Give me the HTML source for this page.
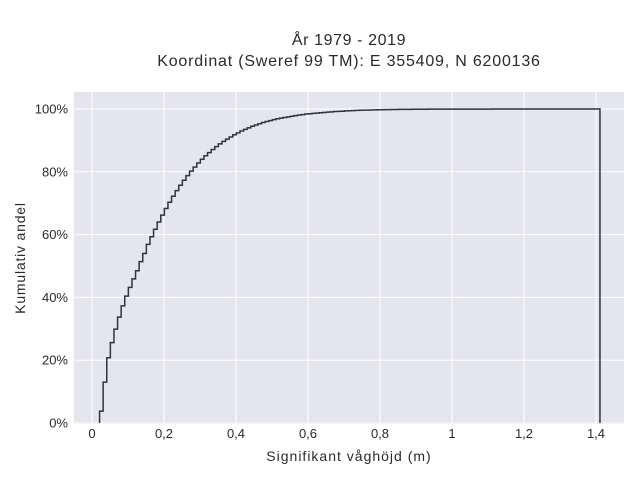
<!DOCTYPE html>
<html><head><meta charset="utf-8"><style>
body{margin:0;background:#fff;}
svg{display:block;font-family:"Liberation Sans",sans-serif;}
</style></head><body>
<svg id="chart" width="640" height="480" xmlns="http://www.w3.org/2000/svg">
<rect x="0" y="0" width="640" height="480" fill="#fff"/>
<rect x="74" y="92" width="550" height="332" fill="#e5e5ef"/>
<g id="grid"></g>
<g id="series"></g>
<g id="axes"></g>
<text x="349" y="45" text-anchor="middle" font-size="16" letter-spacing="0.6" fill="#2a2a2a">År 1979 - 2019</text>
<text x="349" y="66" text-anchor="middle" font-size="16" letter-spacing="0.8" fill="#2a2a2a">Koordinat (Sweref 99 TM): E 355409, N 6200136</text>
<text x="349" y="461" text-anchor="middle" font-size="14" letter-spacing="1" fill="#2a2a2a">Signifikant våghöjd (m)</text>
<text transform="translate(25,258) rotate(-90)" text-anchor="middle" font-size="14" letter-spacing="0.8" fill="#2a2a2a">Kumulativ andel</text>
</svg>
<script>
const binStart = 0.021;
const binWidth = 0.01;
const cumValues = [3.8,13,20.8,25.6,29.9,33.7,37.3,40.4,43.2,45.9,48.5,51.4,54,56.9,59.3,61.7,64,66.2,68.3,70.3,72.2,74,75.7,77.3,78.8,80.2,81.5,82.8,84,85.1,86.1,87.1,88,88.9,89.7,90.4,91.1,91.8,92.4,93,93.5,94,94.5,94.9,95.3,95.7,96,96.3,96.6,96.9,97.1,97.3,97.5,97.7,97.9,98.1,98.2,98.4,98.5,
98.6,98.7,98.8,98.9,99,99.1,99.2,99.25,99.3,99.4,
99.45,99.5,99.55,99.6,99.63,99.66,99.7,99.72,99.75,99.78,
99.8,99.82,99.84,99.86,99.87,99.88,99.89,99.9,99.91,99.92,
99.93,99.94,99.95,99.95,99.96,99.96,99.97,99.97,99.97,99.98,
99.98,99.98,99.98,99.98,99.98,99.98,99.98,99.98,99.98,99.98,
99.99,99.99,99.99,99.99,99.99,99.99,99.99,99.99,99.99,99.99,
99.99,99.99,99.99,99.99,99.99,99.99,99.99,99.99,99.99,99.99,
100,100,100,100,100,100,100,100,100,100];
const xTicks = [0,0.2,0.4,0.6,0.8,1,1.2,1.4];
const xTickLabels = ["0","0,2","0,4","0,6","0,8","1","1,2","1,4"];
const yTicks = [0,20,40,60,80,100];
const yTickLabels = ["0%","20%","40%","60%","80%","100%"];

const NS="http://www.w3.org/2000/svg";
const X = v => 92 + v*360;
const Y = v => 423 - v*3.14;
const grid=document.getElementById('grid'), axes=document.getElementById('axes'), series=document.getElementById('series');
function mk(tag,attrs,parent){const e=document.createElementNS(NS,tag);for(const k in attrs)e.setAttribute(k,attrs[k]);parent.appendChild(e);return e;}
xTicks.forEach((t,i)=>{
  const l=mk('line',{x1:X(t),x2:X(t),y1:92,y2:424,stroke:'#fff','stroke-width':1},grid);
  
  
  const tx=mk('text',{x:X(t),y:438,'text-anchor':'middle','font-size':13,fill:'#2a2a2a'},axes);
  tx.textContent=xTickLabels[i];
  
  
});
yTicks.forEach((t,i)=>{
  const l=mk('line',{x1:74,x2:624,y1:Y(t),y2:Y(t),stroke:'#fff','stroke-width':1},grid);
  
  
  const tx=mk('text',{x:68,y:Y(t)+4.5,'text-anchor':'end','font-size':13,fill:'#2a2a2a'},axes);
  tx.textContent=yTickLabels[i];
  
  
});
let d='M'+X(binStart)+','+Y(0);
cumValues.forEach((v,i)=>{
  const x0=X(binStart+i*binWidth), x1=X(binStart+(i+1)*binWidth);
  d+=' L'+x0+','+Y(v)+' L'+x1+','+Y(v);
});
d+=' L'+X(binStart+cumValues.length*binWidth)+','+Y(0);
const p=mk('path',{d:d,fill:'none',stroke:'#2a3545','stroke-width':1.5},series);


</script>
</body></html>
